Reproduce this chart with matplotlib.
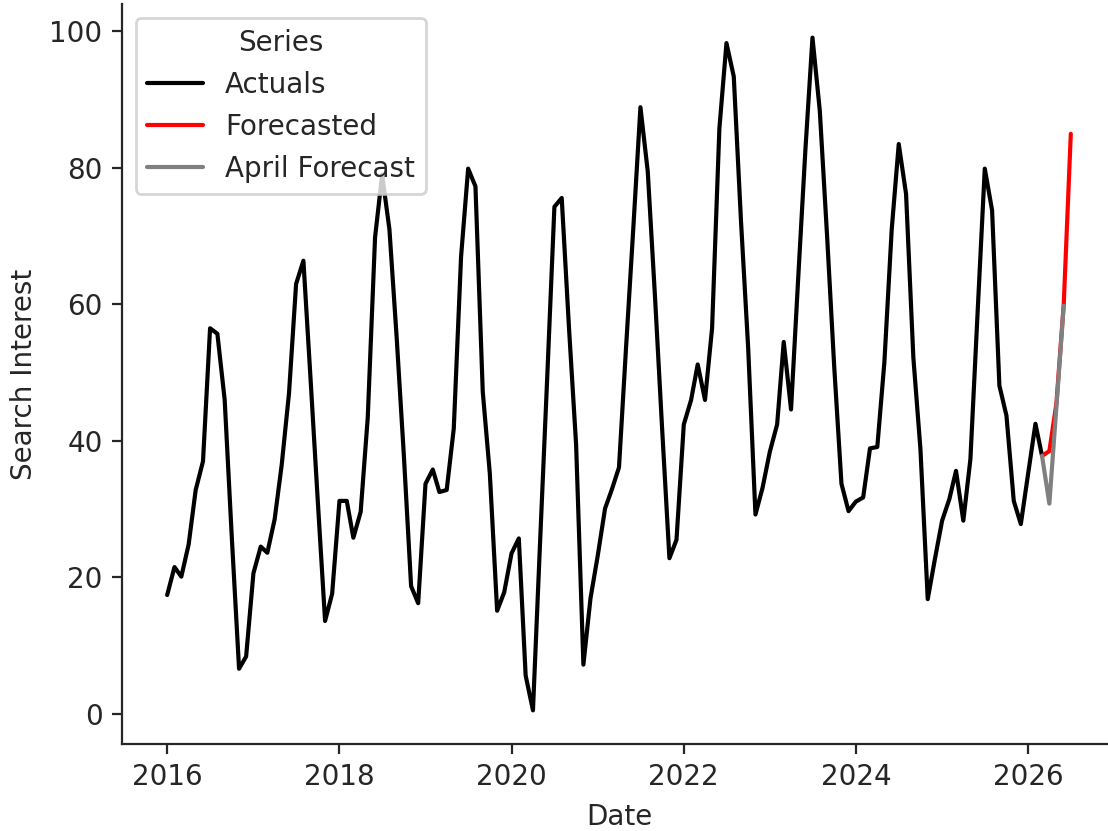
import matplotlib
matplotlib.use("Agg")
import matplotlib.pyplot as plt
import seaborn as sns
import pandas as pd
import numpy as np

actual_values = [
    # 2016
    17.4, 21.5, 20.1, 24.8, 32.8, 37.0, 56.5, 55.7, 46.0, 26.0, 6.6, 8.4,
    # 2017
    20.6, 24.5, 23.6, 28.5, 36.5, 47.0, 63.0, 66.4, 48.7, 31.2, 13.6, 17.6,
    # 2018
    31.2, 31.2, 25.8, 29.6, 43.4, 69.8, 79.0, 71.0, 55.0, 38.0, 18.7, 16.2,
    # 2019
    33.7, 35.8, 32.5, 32.8, 41.8, 67.0, 79.9, 77.3, 47.2, 35.2, 15.1, 17.8,
    # 2020
    23.5, 25.7, 5.6, 0.5, 25.0, 49.7, 74.3, 75.6, 56.5, 39.5, 7.2, 16.9,
    # 2021
    23.2, 30.1, 32.8, 36.1, 53.7, 71.3, 88.9, 79.5, 61.0, 41.8, 22.8, 25.5,
    # 2022
    42.4, 46.0, 51.2, 46.0, 56.5, 85.8, 98.3, 93.4, 72.0, 53.7, 29.2, 33.1,
    # 2023
    38.4, 42.4, 54.5, 44.6, 63.6, 82.7, 99.1, 88.4, 70.0, 51.0, 33.7, 29.7,
    # 2024
    31.1, 31.7, 38.9, 39.1, 51.5, 70.9, 83.5, 76.2, 52.2, 38.8, 16.8, 22.6,
    # 2025
    28.3, 31.5, 35.6, 28.3, 37.3, 59.1, 79.9, 73.8, 48.1, 43.7, 31.2, 27.8,
    # 2026
    35.2, 42.5, 37.8,
]
actual_start = "2016-01-01"

forecast_values = [37.8, 38.5, 45.5, 60.0, 85.0]
forecast_start = "2026-03-01"

april_values = [37.8, 30.8, 45.0, 59.8]
april_start = "2026-03-01"

series_names = ["Actuals", "Forecasted", "April Forecast"]
series_colors = ["black", "red", "gray"]

sns.set_style("ticks")
plt.rcParams["font.family"] = ["DejaVu Sans"]

fig = plt.figure(figsize=(5.54, 4.155), dpi=200)
ax = fig.add_axes([0.1101, 0.1047, 0.8971, 0.8905])

act_dates = pd.date_range(actual_start, periods=len(actual_values), freq="MS")
fc_dates = pd.date_range(forecast_start, periods=len(forecast_values), freq="MS")
ap_dates = pd.date_range(april_start, periods=len(april_values), freq="MS")

ax.plot(act_dates, actual_values, color=series_colors[0], lw=1.5, label=series_names[0])
ax.plot(fc_dates, forecast_values, color=series_colors[1], lw=1.5, label=series_names[1])
ax.plot(ap_dates, april_values, color=series_colors[2], lw=1.5, label=series_names[2])

ax.set_xlabel("Date")
ax.set_ylabel("Search Interest")
ax.legend(title="Series", loc="upper left")
sns.despine(ax=ax)

fig.savefig("out.png", dpi=200)
